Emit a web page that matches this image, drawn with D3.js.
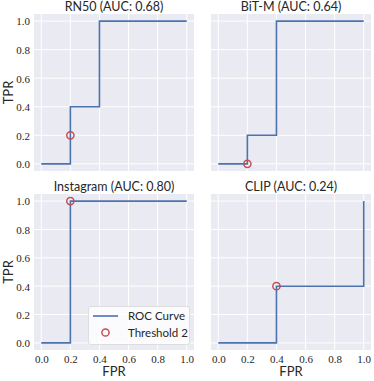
<!DOCTYPE html>
<html>
<title>ROC</title>
<meta charset="UTF-8">
<script type="text/javascript" src="https://d3js.org/d3.v7.min.js"></script>
<style type="text/css">
	body { margin:0; background:white; }
	.title, .axlabel, .legend text { font-family: Lato, "DejaVu Sans", sans-serif; fill:#262626; }
	.tick text { font-family: "Liberation Serif", serif; font-size: 11px; fill:#262626; }
</style>
<body>
<svg id="viz" width="374" height="381"></svg>
</body>
<script type="text/javascript">

var models = ["RN50", "BiT-M", "Instagram", "CLIP"];
var aucs = [0.68, 0.64, 0.80, 0.24];
var fprs = [
	[0, 0.2, 0.2, 0.4, 0.4, 1.0],
	[0, 0.2, 0.2, 0.4, 0.4, 1.0],
	[0, 0.2, 0.2, 1.0],
	[0, 0.4, 0.4, 1.0, 1.0]
];
var tprs = [
	[0, 0, 0.4, 0.4, 1.0, 1.0],
	[0, 0, 0.2, 0.2, 1.0, 1.0],
	[0, 0, 1.0, 1.0],
	[0, 0, 0.4, 0.4, 1.0]
];
var threshFpr = [0.2, 0.2, 0.2, 0.4];
var threshTpr = [0.2, 0.0, 1.0, 0.4];
var ticks = [0, 0.2, 0.4, 0.6, 0.8, 1.0];

var blue = "#4c72b0", red = "#c44e52";

// panel boxes: left, top, right, bottom
var cols = [[34, 194], [211, 371]];
var rows = [[14, 171], [194, 350]];

var svg = d3.select("#viz");

models.forEach(function(name, i){
	var c = cols[i % 2], r = rows[Math.floor(i / 2)];
	var x = d3.scaleLinear().domain([-0.05, 1.05]).range(c);
	var y = d3.scaleLinear().domain([-0.05, 1.05]).range([r[1], r[0]]);
	var g = svg.append("g");

	g.append("rect")
		.attr("x", c[0]).attr("y", r[0])
		.attr("width", c[1] - c[0]).attr("height", r[1] - r[0])
		.attr("fill", "#eaeaf2");

	// grid
	g.selectAll(".gx").data(ticks).enter().append("line")
		.attr("x1", d => x(d)).attr("x2", d => x(d))
		.attr("y1", r[0]).attr("y2", r[1])
		.attr("stroke", "white").attr("stroke-width", 1);
	g.selectAll(".gy").data(ticks).enter().append("line")
		.attr("y1", d => y(d)).attr("y2", d => y(d))
		.attr("x1", c[0]).attr("x2", c[1])
		.attr("stroke", "white").attr("stroke-width", 1);

	// axes (labels only)
	if (i % 2 == 0) {
		var ya = g.append("g").attr("transform", "translate(" + c[0] + ",0)")
			.call(d3.axisLeft(y).tickValues(ticks).tickFormat(d3.format(".1f")).tickSize(0).tickPadding(4));
		ya.select(".domain").remove();
		ya.selectAll("text").attr("dy", "0.35em");
		g.append("text").attr("class", "axlabel")
			.attr("transform", "translate(13," + ((r[0] + r[1]) / 2) + ") rotate(-90)")
			.attr("text-anchor", "middle").attr("font-size", 13).text("TPR");
	}
	if (i >= 2) {
		var xa = g.append("g").attr("transform", "translate(0," + r[1] + ")")
			.call(d3.axisBottom(x).tickValues(ticks).tickFormat(d3.format(".1f")).tickSize(0).tickPadding(5));
		xa.select(".domain").remove();
		g.append("text").attr("class", "axlabel")
			.attr("x", (c[0] + c[1]) / 2).attr("y", 376)
			.attr("text-anchor", "middle").attr("font-size", 13).text("FPR");
	}

	g.append("text").attr("class", "title")
		.attr("x", (c[0] + c[1]) / 2).attr("y", r[0] - 3)
		.attr("text-anchor", "middle").attr("font-size", 12.5)
		.text(name + " (AUC: " + aucs[i].toFixed(2) + ")");

	var pts = fprs[i].map((f, k) => [f, tprs[i][k]]);
	var line = d3.line().x(d => x(d[0])).y(d => y(d[1]));
	g.append("path").attr("d", line(pts))
		.attr("fill", "none").attr("stroke", blue).attr("stroke-width", 1.6);

	g.append("circle")
		.attr("cx", x(threshFpr[i])).attr("cy", y(threshTpr[i])).attr("r", 3.6)
		.attr("fill", "none").attr("stroke", red).attr("stroke-width", 1.5);
});

// legend in Instagram panel
var lg = svg.append("g").attr("class", "legend");
lg.append("rect").attr("x", 88.5).attr("y", 306.5).attr("width", 101).attr("height", 38)
	.attr("rx", 2.5).attr("fill", "white").attr("fill-opacity", 0.8)
	.attr("stroke", "#d8d8d8").attr("stroke-width", 0.8);
lg.append("line").attr("x1", 93).attr("x2", 118).attr("y1", 316).attr("y2", 316)
	.attr("stroke", blue).attr("stroke-width", 1.6);
lg.append("circle").attr("cx", 105.5).attr("cy", 332.5).attr("r", 3.6)
	.attr("fill", "none").attr("stroke", red).attr("stroke-width", 1.5);
lg.append("text").attr("x", 128).attr("y", 320).attr("font-size", 11.5).text("ROC Curve");
lg.append("text").attr("x", 128).attr("y", 337).attr("font-size", 11.5).text("Threshold 2");

</script>
</html>
